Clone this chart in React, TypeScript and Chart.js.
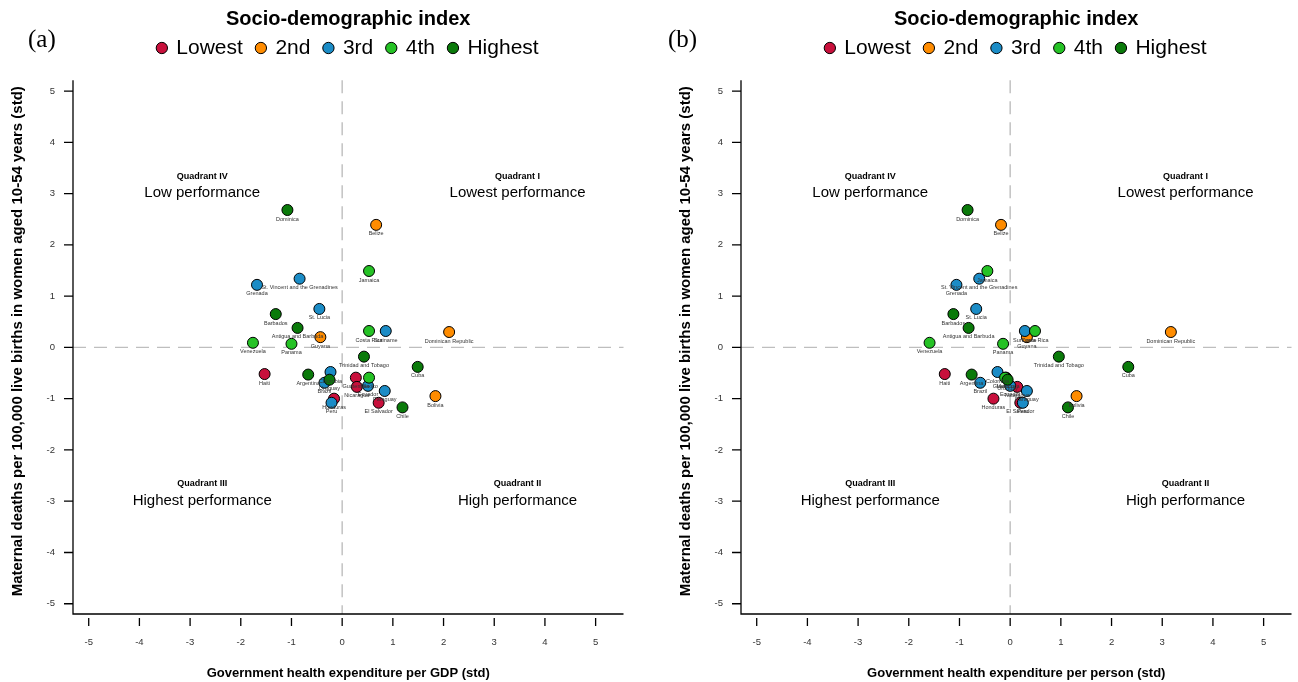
import React, { useEffect, useRef } from 'react';
import { Chart, registerables } from 'chart.js';

Chart.register(...registerables);

const FONT = '"Liberation Sans", Arial, sans-serif';

// ---- data ----
const countries = [
  'Haiti', 'Guatemala', 'Nicaragua', 'Honduras', 'El Salvador',
  'Belize', 'Guyana', 'Dominican Republic', 'Bolivia',
  'St. Vincent and the Grenadines', 'Grenada', 'St. Lucia', 'Suriname', 'Colombia', 'Brazil', 'Ecuador', 'Paraguay', 'Peru',
  'Jamaica', 'Venezuela', 'Panama', 'Costa Rica', 'Mexico',
  'Dominica', 'Barbados', 'Antigua and Barbuda', 'Trinidad and Tobago', 'Cuba', 'Argentina', 'Uruguay', 'Chile',
];
// SDI quintile index (0 = Lowest ... 4 = Highest)
const sdiGroup = [
  0, 0, 0, 0, 0,
  1, 1, 1, 1,
  2, 2, 2, 2, 2, 2, 2, 2, 2,
  3, 3, 3, 3, 3,
  4, 4, 4, 4, 4, 4, 4, 4,
];
// Maternal deaths per 100,000 live births (std)
const maternalStd = [
  -0.52, -0.59, -0.77, -1.0, -1.08,
  2.39, 0.2, 0.3, -0.95,
  1.34, 1.22, 0.75, 0.32, -0.48, -0.69, -0.75, -0.85, -1.08,
  1.49, 0.09, 0.07, 0.32, -0.59,
  2.68, 0.65, 0.38, -0.18, -0.38, -0.53, -0.63, -1.17,
];
// Government health expenditure per GDP (std)
const expGdpStd = [
  -1.53, 0.27, 0.29, -0.16, 0.72,
  0.67, -0.43, 2.11, 1.84,
  -0.84, -1.68, -0.45, 0.86, -0.23, -0.35, 0.51, 0.84, -0.21,
  0.53, -1.76, -1.0, 0.53, 0.53,
  -1.08, -1.31, -0.88, 0.43, 1.49, -0.67, -0.25, 1.19,
];
// Government health expenditure per person (std)
const expPersonStd = [
  -1.29, -0.08, 0.14, -0.33, 0.2,
  -0.18, 0.33, 3.17, 1.31,
  -0.61, -1.06, -0.67, 0.29, -0.25, -0.59, 0.0, 0.33, 0.25,
  -0.45, -1.59, -0.14, 0.49, -0.1,
  -0.84, -1.12, -0.82, 0.96, 2.33, -0.76, -0.05, 1.14,
];
const groupNames = ['Lowest', '2nd', '3rd', '4th', 'Highest'];
const groupColors = ['#C8103C', '#FF8C00', '#1B8CC6', '#25C225', '#0A7A0A'];
const tickValues = [-5, -4, -3, -2, -1, 0, 1, 2, 3, 4, 5];
const quadrantTitles = ['Quadrant IV', 'Quadrant I', 'Quadrant III', 'Quadrant II'];
const quadrantTexts = ['Low performance', 'Lowest performance', 'Highest performance', 'High performance'];
const quadrantX = [-2.76, 3.46, -2.76, 3.46];
const quadrantY = [3.34, 3.34, -2.66, -2.66];

// axis limits
const X_MIN = -5.31;
const X_MAX = 5.55;
const Y_MIN = -5.2;
const Y_MAX = 5.44;
const Y_AXIS_TOP = 5.21;

const framePlugin = {
  id: 'frame',
  beforeDatasetsDraw(chart: any) {
    const { ctx, chartArea: a, scales } = chart;
    const xs = scales.x;
    const ys = scales.y;
    const y0 = ys.getPixelForValue(0);
    const x0 = xs.getPixelForValue(0);
    const yTop = ys.getPixelForValue(Y_AXIS_TOP);
    ctx.save();
    // reference dashed lines
    ctx.strokeStyle = '#BEBEBE';
    ctx.lineWidth = 1.4;
    ctx.setLineDash([13, 8]);
    ctx.beginPath();
    ctx.moveTo(a.left, y0);
    ctx.lineTo(a.right, y0);
    ctx.stroke();
    ctx.beginPath();
    ctx.moveTo(x0, yTop);
    ctx.lineTo(x0, a.bottom);
    ctx.stroke();
    ctx.setLineDash([]);
    // axes
    ctx.strokeStyle = '#000';
    ctx.lineWidth = 1.3;
    ctx.beginPath();
    ctx.moveTo(a.left, yTop);
    ctx.lineTo(a.left, a.bottom);
    ctx.lineTo(a.right, a.bottom);
    ctx.stroke();
    ctx.beginPath();
    tickValues.forEach((v) => {
      const py = ys.getPixelForValue(v);
      ctx.moveTo(a.left - 9, py);
      ctx.lineTo(a.left, py);
      const px = xs.getPixelForValue(v);
      ctx.moveTo(px, a.bottom + 4);
      ctx.lineTo(px, a.bottom + 12);
    });
    ctx.stroke();
    // quadrant labels
    ctx.fillStyle = '#000';
    ctx.textAlign = 'center';
    ctx.textBaseline = 'middle';
    quadrantTitles.forEach((t, i) => {
      const px = xs.getPixelForValue(quadrantX[i]);
      const py = ys.getPixelForValue(quadrantY[i]);
      ctx.font = `bold 9px ${FONT}`;
      ctx.fillText(t, px, py);
      ctx.font = `15px ${FONT}`;
      ctx.fillText(quadrantTexts[i], px, py + 17);
    });
    ctx.restore();
  },
  afterDatasetsDraw(chart: any) {
    const { ctx } = chart;
    ctx.save();
    ctx.font = `5.5px ${FONT}`;
    ctx.fillStyle = '#333';
    ctx.textAlign = 'center';
    ctx.textBaseline = 'middle';
    chart.data.datasets.forEach((ds: any, di: number) => {
      const meta = chart.getDatasetMeta(di);
      meta.data.forEach((el: any, i: number) => {
        ctx.fillText(ds.data[i].name, el.x, el.y + 9);
      });
    });
    ctx.restore();
  },
};

function makeConfig(xs: number[], xTitle: string): any {
  const datasets = groupNames.map((name, g) => ({
    label: name,
    data: countries
      .map((c, i) => ({ x: xs[i], y: maternalStd[i], name: c, g: sdiGroup[i] }))
      .filter((p) => p.g === g),
    backgroundColor: groupColors[g],
    borderColor: '#000',
    borderWidth: 1,
    pointRadius: 5.5,
    pointHoverRadius: 5.5,
    pointStyle: 'circle',
    order: groupNames.length - 1 - g,
  }));
  return {
    type: 'scatter',
    data: { datasets },
    plugins: [framePlugin],
    options: {
      responsive: false,
      animation: false,
      events: [],
      layout: { padding: { top: 0, right: 2, left: 0, bottom: 0 } },
      plugins: {
        tooltip: { enabled: false },
        legend: {
          position: 'top',
          fullSize: false,
          reverse: true,
          labels: {
            usePointStyle: true,
            boxWidth: 8,
            boxHeight: 8,
            padding: 14,
            color: '#000',
            font: { family: FONT, size: 21 },
          },
          title: {
            display: true,
            text: 'Socio-demographic index',
            color: '#000',
            font: { family: FONT, size: 20, weight: 'bold', lineHeight: 1 },
            padding: { top: 9, bottom: -5.5 },
          },
        },
      },
      scales: {
        x: {
          type: 'linear',
          min: X_MIN,
          max: X_MAX,
          afterBuildTicks: (s: any) => {
            s.ticks = tickValues.map((v) => ({ value: v }));
          },
          afterFit: (s: any) => {
            s.height = 68;
          },
          grid: { display: false, drawTicks: false },
          border: { display: false },
          ticks: { padding: 23, color: '#333', font: { family: FONT, size: 9.5 }, callback: (v: any) => String(v) },
          title: {
            display: true,
            text: xTitle,
            color: '#000',
            font: { family: FONT, size: 13, weight: 'bold' },
            padding: { top: 0, bottom: 1 },
          },
        },
        y: {
          type: 'linear',
          min: Y_MIN,
          max: Y_MAX,
          afterBuildTicks: (s: any) => {
            s.ticks = tickValues.map((v) => ({ value: v }));
          },
          afterFit: (s: any) => {
            s.width = 73;
          },
          grid: { display: false, drawTicks: false },
          border: { display: false },
          ticks: { padding: 18, color: '#333', font: { family: FONT, size: 9.5 }, callback: (v: any) => String(v) },
          title: {
            display: true,
            text: 'Maternal deaths per 100,000 live births in women aged 10-54 years (std)',
            color: '#000',
            font: { family: FONT, size: 15, weight: 'bold' },
            padding: { top: 9, bottom: 0 },
          },
        },
      },
    },
  };
}

function Panel(props: { xs: number[]; xTitle: string; tag: string; left: number; tagLeft: number }) {
  const ref = useRef<HTMLCanvasElement>(null);
  useEffect(() => {
    const chart = new Chart(ref.current as HTMLCanvasElement, makeConfig(props.xs, props.xTitle));
    return () => chart.destroy();
  }, []);
  return (
    <div style={{ position: 'absolute', left: props.left, top: 0, width: 630, height: 682 }}>
      <canvas ref={ref} width={630} height={682} style={{ display: 'block' }} />
      <div
        style={{
          position: 'absolute',
          left: props.tagLeft,
          top: 26,
          fontFamily: '"Liberation Serif", "Times New Roman", serif',
          fontSize: 25,
          lineHeight: 1,
          color: '#000',
        }}
      >
        {props.tag}
      </div>
    </div>
  );
}

export default function App() {
  return (
    <div style={{ position: 'fixed', left: 0, top: 0, width: 1298, height: 682, background: '#fff', overflow: 'hidden' }}>
      <Panel xs={expGdpStd} xTitle="Government health expenditure per GDP (std)" tag="(a)" left={0} tagLeft={28} />
      <Panel xs={expPersonStd} xTitle="Government health expenditure per person (std)" tag="(b)" left={668} tagLeft={0} />
    </div>
  );
}
